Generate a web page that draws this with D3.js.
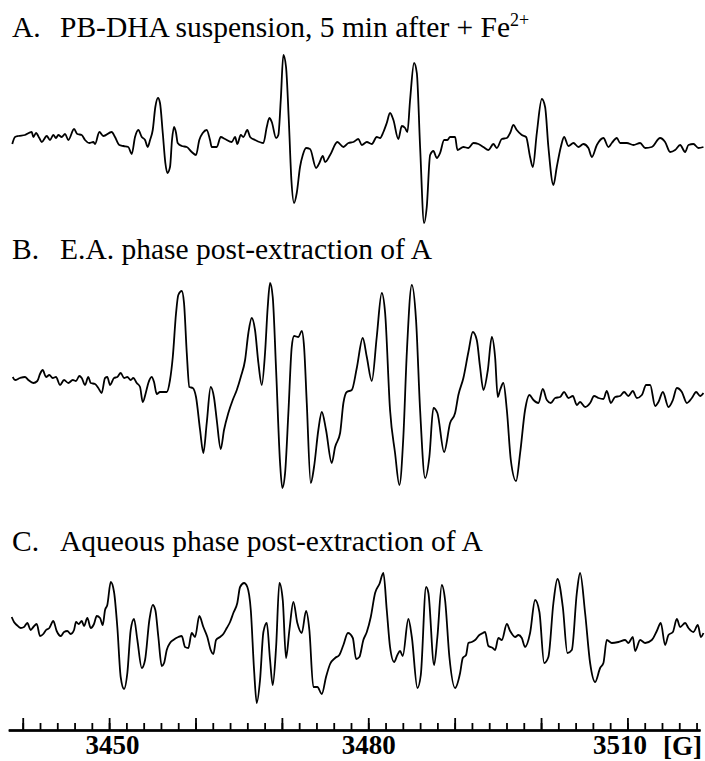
<!DOCTYPE html>
<html>
<head>
<meta charset="utf-8">
<script src="https://cdn.jsdelivr.net/npm/d3@7"></script>
<style>
  html, body { margin: 0; padding: 0; background: #fff; }
  svg { display: block; }
  text { font-family: "Liberation Serif", "Times New Roman", serif; fill: #000; }
</style>
</head>
<body>
<svg id="chart" width="705" height="761"></svg>
<script>
// Magnetic field (G) and first-derivative EPR amplitude (arb. units) for each spectrum
const fieldA = [3438.79,3439.11,3439.49,3440.26,3441.04,3441.23,3441.54,3441.92,3442.20,3442.78,3443.16,3443.54,3443.85,3444.12,3444.51,3444.90,3445.28,3445.94,3446.32,3446.83,3447.21,3447.71,3448.17,3448.37,3448.87,3449.33,3450.30,3450.68,3451.18,3451.65,3452.22,3452.62,3453.00,3453.38,3453.78,3454.16,3454.47,3454.74,3455.05,3455.35,3455.66,3455.89,3456.21,3456.51,3456.74,3457.05,3457.28,3457.52,3457.75,3457.94,3458.41,3458.99,3459.57,3460.06,3460.44,3460.84,3461.30,3461.68,3461.88,3462.46,3462.92,3463.42,3464.20,3464.58,3464.84,3465.24,3465.54,3466.00,3466.32,3466.89,3467.86,3468.25,3468.55,3468.83,3469.33,3469.59,3469.87,3470.17,3470.48,3470.80,3471.10,3471.41,3471.72,3472.10,3472.42,3472.80,3473.26,3473.96,3474.34,3474.73,3475.00,3475.58,3476.42,3477.12,3477.70,3478.28,3478.85,3479.25,3479.83,3480.41,3480.98,3481.37,3481.75,3482.14,3482.52,3482.91,3483.48,3483.88,3484.26,3484.53,3484.84,3485.30,3485.62,3486.00,3486.46,3486.77,3487.16,3487.54,3487.93,3488.31,3488.78,3489.16,3489.47,3490.05,3490.32,3491.01,3491.59,3492.17,3492.75,3493.33,3493.91,3494.48,3494.88,3495.46,3496.04,3496.42,3496.80,3497.19,3497.77,3498.27,3498.73,3499.05,3499.51,3500.09,3500.47,3500.85,3501.43,3501.82,3502.29,3502.67,3503.17,3503.75,3504.33,3504.90,3505.48,3505.88,3506.46,3507.22,3507.80,3508.19,3508.77,3509.15,3509.93,3510.70,3511.47,3512.05,3512.82,3513.78,3514.36,3514.94,3515.52,3516.10,3516.68,3517.06,3517.64,3518.22,3518.80];
const ampA = [-4,3,4,5,8,3,7,2,-2,4,0,5,2,5,3,6,0,11,6,5,0,-3,-2,-4,8,4,8,3,-5,-6,-7,-14,3,10,3,0,-7,0,10,33,42,37,7,-23,-33,-27,0,13,7,-3,-6,-7,-12,-15,0,7,10,0,-7,-7,3,1,-2,3,-4,5,3,10,3,0,-3,13,22,18,2,5,40,85,73,20,-40,-63,-53,-27,-15,-8,-9,-28,-23,-16,-22,-15,-2,-7,-3,-2,1,-5,-2,-4,3,2,8,17,27,20,1,14,12,8,40,77,67,-7,-83,-67,-15,-11,-18,-13,0,0,3,3,-10,-7,-8,-3,-4,-7,-10,-4,-8,1,2,7,15,10,5,3,-17,-27,7,41,33,-7,-45,-27,-7,3,-6,-3,-7,-4,-8,-17,-5,2,-7,-3,2,-3,-3,-5,-3,-8,-7,2,-2,-12,-10,-5,-12,-5,-4,-8,-7];

const fieldB = [3438.84,3439.11,3439.69,3440.26,3440.65,3441.23,3441.69,3442.00,3442.31,3442.70,3443.08,3443.47,3443.85,3444.32,3444.78,3445.28,3445.79,3446.17,3446.55,3446.83,3447.21,3447.59,3447.87,3448.37,3448.75,3449.14,3449.53,3449.79,3450.11,3450.57,3450.95,3451.34,3451.73,3452.11,3452.50,3452.80,3453.20,3453.58,3453.89,3454.27,3454.54,3454.93,3455.20,3455.51,3455.89,3456.28,3456.67,3457.05,3457.37,3457.75,3458.01,3458.41,3458.67,3458.99,3459.29,3459.68,3460.06,3460.53,3460.91,3461.30,3461.76,3462.15,3462.46,3462.92,3463.30,3463.80,3464.31,3464.78,3465.24,3465.74,3466.12,3466.51,3466.89,3467.28,3467.67,3468.05,3468.36,3468.63,3468.94,3469.33,3469.79,3470.05,3470.37,3470.75,3471.14,3471.41,3471.91,3472.30,3472.57,3472.88,3473.34,3473.72,3474.22,3474.62,3475.11,3475.77,3476.16,3476.74,3477.12,3477.51,3478.09,3478.67,3479.36,3479.83,3480.41,3480.98,3481.56,3481.95,3482.52,3483.10,3483.60,3484.06,3484.46,3485.04,3485.53,3486.00,3486.58,3487.07,3487.54,3488.00,3488.78,3489.47,3490.05,3490.43,3491.01,3491.59,3492.10,3492.56,3492.94,3493.33,3493.84,3494.30,3494.68,3494.99,3495.26,3495.64,3496.04,3496.50,3497.11,3497.58,3498.15,3498.65,3499.12,3499.69,3500.20,3500.67,3501.13,3501.63,3502.21,3502.67,3503.17,3503.68,3504.14,3504.52,3505.10,3505.68,3506.14,3506.64,3507.22,3507.61,3508.08,3508.57,3509.15,3509.62,3510.11,3510.62,3511.09,3511.67,3512.16,3512.63,3513.21,3513.59,3514.10,3514.75,3515.26,3515.72,3516.30,3516.88,3517.46,3517.95,3518.42,3518.80];
const ampB = [13,10,12,13,10,7,9,16,20,13,15,12,13,5,10,7,10,9,14,12,5,13,7,6,2,-3,12,13,5,12,13,17,12,13,10,12,7,3,-12,-2,7,13,8,-4,-2,-2,-2,10,33,77,95,99,87,37,3,2,-7,-40,-63,-33,3,-8,-30,-59,-40,-23,-10,0,13,30,57,72,60,27,5,37,83,107,93,20,-73,-98,-83,-23,43,54,53,59,43,-13,-93,-77,-40,-22,-40,-73,-57,-43,-13,-2,0,22,52,33,9,53,97,77,-20,-63,-95,-47,37,105,70,-20,-88,-67,-18,-23,-62,-33,-23,-5,12,38,58,50,23,0,20,53,33,-7,0,7,-20,-70,-91,-63,-20,-5,-10,-13,1,-10,-13,-8,-7,-2,-8,-6,-15,-12,-17,-13,-6,-8,-9,-1,-13,-7,-6,-2,-6,-1,-8,-5,5,5,-16,-12,-2,-17,-10,2,-2,-13,-8,-2,-6,-3];

const fieldC = [3438.72,3438.99,3439.30,3439.77,3440.15,3440.53,3440.92,3441.23,3441.62,3442.00,3442.38,3442.70,3443.08,3443.54,3443.93,3444.40,3444.78,3445.16,3445.56,3445.94,3446.17,3446.48,3446.83,3447.10,3447.48,3447.87,3448.25,3448.57,3448.95,3449.26,3449.53,3449.79,3450.19,3450.57,3450.95,3451.34,3451.73,3452.11,3452.50,3452.88,3453.27,3453.78,3454.16,3454.66,3455.05,3455.35,3455.70,3456.09,3456.36,3456.67,3457.05,3457.43,3458.01,3458.41,3458.79,3459.17,3459.56,3459.95,3460.44,3460.91,3461.37,3461.76,3462.07,3462.38,3462.84,3463.22,3463.62,3464.00,3464.38,3464.84,3465.16,3465.62,3466.00,3466.40,3466.78,3467.09,3467.47,3467.86,3468.25,3468.63,3468.94,3469.33,3469.71,3470.10,3470.48,3470.87,3471.33,3471.79,3472.30,3472.80,3473.18,3473.64,3474.11,3474.62,3475.11,3475.58,3476.16,3476.65,3477.12,3477.64,3478.21,3478.59,3478.97,3479.43,3479.83,3480.29,3480.79,3481.29,3481.75,3482.14,3482.52,3482.99,3483.37,3483.68,3483.99,3484.64,3485.04,3485.69,3486.08,3486.69,3486.96,3487.62,3488.00,3488.51,3488.89,3489.39,3490.05,3490.63,3490.94,3491.32,3491.59,3491.98,3492.37,3492.86,3493.26,3493.52,3493.91,3494.41,3494.68,3495.06,3495.46,3496.04,3496.42,3497.00,3497.38,3497.77,3498.15,3498.73,3499.31,3499.81,3500.36,3500.85,3501.43,3501.90,3502.52,3503.05,3503.56,3504.14,3504.52,3505.10,3505.68,3506.26,3506.84,3507.22,3507.61,3508.19,3508.96,3509.73,3510.11,3510.62,3510.89,3511.47,3512.05,3512.82,3513.40,3513.86,3514.36,3514.75,3515.26,3515.72,3516.10,3516.68,3517.06,3517.64,3518.15,3518.50,3518.80];
const ampC = [23,18,15,12,13,17,10,13,16,4,6,10,12,19,9,4,8,9,6,10,18,16,19,14,22,12,16,24,22,15,30,35,58,48,13,-37,-49,-33,10,21,0,-28,-20,20,35,30,3,-26,-23,-10,-3,0,3,4,-7,-8,7,3,24,13,3,-10,-14,0,3,6,12,18,27,37,53,57,53,30,-30,-63,-40,8,17,-20,-45,-7,57,40,-18,10,38,17,7,29,10,-47,-47,-54,-37,-24,-18,-15,-5,7,2,-19,-17,0,8,23,47,56,67,30,-7,-22,-15,-11,-16,21,3,-48,-35,53,47,-25,3,55,40,-17,-48,-33,-18,-15,-3,-2,0,5,7,8,-6,-8,-10,2,0,16,9,3,5,2,-7,7,40,28,-23,-17,37,61,33,-13,-10,47,67,27,-23,-42,-28,-23,0,-3,-2,0,-3,3,-11,0,-3,0,9,17,-5,5,8,21,13,17,12,8,15,3,7];

// Panel captions
const panelLetters = ["A.", "B.", "C."];
const panelTitles = ["PB-DHA suspension, 5 min after + Fe", "E.A. phase post-extraction of A", "Aqueous phase post-extraction of A"];
const titleSuperscript = "2+";

// Field axis
const fieldDomain = [3438.33, 3518.4];
const minorTicks = d3.range(3440, 3519, 2);
const majorTicks = d3.range(3440, 3511, 10);
const labeledTicks = [3450, 3480, 3510];
const unitLabel = "[G]";

const svg = d3.select("#chart");

const x = d3.scaleLinear().domain(fieldDomain).range([8.3, 700]);

const panels = [
  { field: fieldA, amp: ampA, base: 140, titleY: 37 },
  { field: fieldB, amp: ampB, base: 390, titleY: 259 },
  { field: fieldC, amp: ampC, base: 640, titleY: 551 }
];

panels.forEach((p, i) => {
  const y = d3.scaleLinear().domain([-100, 100]).range([p.base + 100, p.base - 100]);
  const line = d3.line()
    .x(d => x(d[0]))
    .y(d => y(d[1]))
    .curve(d3.curveMonotoneX);

  svg.append("path")
    .datum(d3.zip(p.field, p.amp))
    .attr("fill", "none")
    .attr("stroke", "#000")
    .attr("stroke-width", 1.8)
    .attr("stroke-linejoin", "round")
    .attr("d", line);

  svg.append("text")
    .attr("x", 12)
    .attr("y", p.titleY)
    .attr("font-size", 29.5)
    .text(panelLetters[i]);

  const t = svg.append("text")
    .attr("x", 60)
    .attr("y", p.titleY)
    .attr("font-size", 29.5)
    .text(panelTitles[i]);
  if (i === 0) {
    t.append("tspan")
      .attr("dy", -11)
      .attr("font-size", 18)
      .text(titleSuperscript);
  }
});

// Field axis: minor ticks every 2 G, major every 10 G, labels every 30 G
const axisY = 730;
const axisG = svg.append("g").attr("transform", `translate(0,${axisY})`);

const minorAxis = d3.axisBottom(x).tickValues(minorTicks).tickSizeInner(-7).tickSizeOuter(0).tickFormat("");
const majorAxis = d3.axisBottom(x).tickValues(majorTicks).tickSizeInner(-12).tickSizeOuter(0).tickFormat("");
const labelAxis = d3.axisBottom(x).tickValues(labeledTicks).tickSizeInner(0).tickSizeOuter(0).tickPadding(5).tickFormat(d3.format("d"));

[minorAxis, majorAxis, labelAxis].forEach(ax => {
  const g = axisG.append("g").call(ax);
  g.selectAll("path.domain").attr("stroke", "#000").attr("stroke-width", 2);
  g.selectAll(".tick line").attr("stroke", "#000").attr("stroke-width", 1.8);
  g.selectAll(".tick text")
    .attr("fill", "#000")
    .attr("font-family", "'Liberation Serif', 'Times New Roman', serif")
    .attr("font-weight", "bold")
    .attr("font-size", 27);
});
axisG.selectAll(".tick text").filter(d => d === 3450).attr("dx", 3);
axisG.selectAll(".tick text").filter(d => d === 3510).attr("dx", -8);

axisG.append("text")
  .attr("x", 702)
  .attr("y", 25)
  .attr("text-anchor", "end")
  .attr("font-weight", "bold")
  .attr("font-size", 27)
  .text(unitLabel);
</script>
</body>
</html>
